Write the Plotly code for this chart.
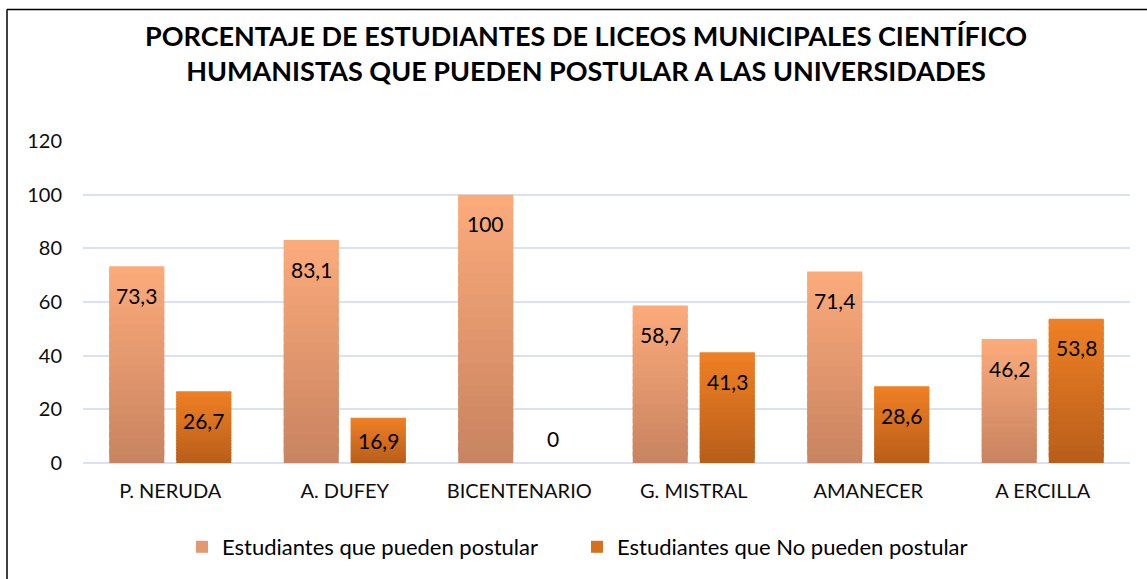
import plotly.graph_objects as go

categories = ["P. NERUDA", "A. DUFEY", "BICENTENARIO", "G. MISTRAL", "AMANECER", "A ERCILLA"]
pueden = [73.3, 83.1, 100, 58.7, 71.4, 46.2]
no_pueden = [26.7, 16.9, 0, 41.3, 28.6, 53.8]
series_names = ["Estudiantes que pueden postular", "Estudiantes que No pueden postular"]
y_ticks = [0, 20, 40, 60, 80, 100, 120]

FONT = "Lato"
N_SEG = 24
grad = {
    0: ((200, 131, 96), (252, 171, 123)),   # bottom, top
    1: ((184, 94, 26), (239, 128, 36)),
}
legend_ids = ["legend", "legend2"]
legend_left_px = [222 - 40, 617 - 40]

def mix(c0, c1, t):
    return "rgb(%d,%d,%d)" % tuple(round(a + (b - a) * t) for a, b in zip(c0, c1))

fig = go.Figure()
for s, vals in enumerate([pueden, no_pueden]):
    bottom, top = grad[s]
    for i in range(N_SEG):
        overlap = 1.8 if i < N_SEG - 1 else 1.0
        fig.add_trace(go.Bar(
            x=categories,
            y=[v * overlap / N_SEG for v in vals],
            base=[v * i / N_SEG for v in vals],
            offsetgroup=str(s),
            name=series_names[s],
            legendgroup=str(s),
            legend=legend_ids[s],
            showlegend=(i == N_SEG // 2),
            marker=dict(color=mix(bottom, top, (i + 0.5) / N_SEG), line=dict(width=0)),
            hoverinfo="skip",
        ))

annotations = []
px_per_unit = 321 / 120
for s, vals in enumerate([pueden, no_pueden]):
    for c, v in zip(categories, vals):
        h = v * px_per_unit
        shift = -min(29, h / 2) if v > 0 else 25
        annotations.append(dict(
            x=c, y=v, xref="x", yref="y", text=f"{v:g}".replace(".", ","),
            showarrow=False, xshift=(-33.5 if s == 0 else 33.5), yshift=shift,
            font=dict(family=FONT, size=21, color="#000000"),
        ))

legend_style = dict(orientation="h", xanchor="left", xref="container",
                    y=1 - 547 / 579, yanchor="middle", yref="container",
                    font=dict(family=FONT, size=22, color="#000000"),
                    itemsizing="constant", itemwidth=30, bgcolor="rgba(0,0,0,0)")

fig.update_layout(
    width=1147, height=579,
    margin=dict(l=83, r=17, t=141, b=116),
    paper_bgcolor="white", plot_bgcolor="white",
    barmode="group", bargap=0.232, bargroupgap=0.179,
    title=dict(
        text="PORCENTAJE DE ESTUDIANTES DE LICEOS MUNICIPALES CIENTÍFICO<br>HUMANISTAS QUE PUEDEN POSTULAR A LAS UNIVERSIDADES",
        x=586 / 1147, xanchor="center", y=1 - 46 / 579, yanchor="middle",
        font=dict(family=FONT, size=27, color="#000000", weight="bold"),
    ),
    font=dict(family=FONT, size=20, color="#000000"),
    xaxis=dict(tickfont=dict(family=FONT, size=20, color="#0D0D0D"), showgrid=False,
               showline=False, ticks="", ticklabelstandoff=14),
    yaxis=dict(range=[0, 120], tickvals=y_ticks, tickfont=dict(family=FONT, size=20, color="#0D0D0D"),
               gridcolor="#D9E1F2", gridwidth=1.5, zeroline=True, zerolinecolor="#D9E1F2",
               zerolinewidth=1.5, showline=False, ticks="", ticklabelstandoff=20),
    legend=dict(x=legend_left_px[0] / 1147, **legend_style),
    legend2=dict(x=legend_left_px[1] / 1147, **legend_style),
    annotations=annotations,
    shapes=[
        dict(type="line", xref="paper", yref="paper",
             x0=(7 - 83) / 1047, x1=(1147 - 83) / 1047, y0=(462 - 10) / 321, y1=(462 - 10) / 321,
             line=dict(color="black", width=1.5)),
        dict(type="line", xref="paper", yref="paper",
             x0=(7 - 83) / 1047, x1=(7 - 83) / 1047, y0=(462 - 10) / 321, y1=(462 - 579) / 321,
             line=dict(color="black", width=1.5)),
    ],
)

fig.write_html("out.html", config={"displayModeBar": False},
               post_script="document.body.style.margin='0';")
